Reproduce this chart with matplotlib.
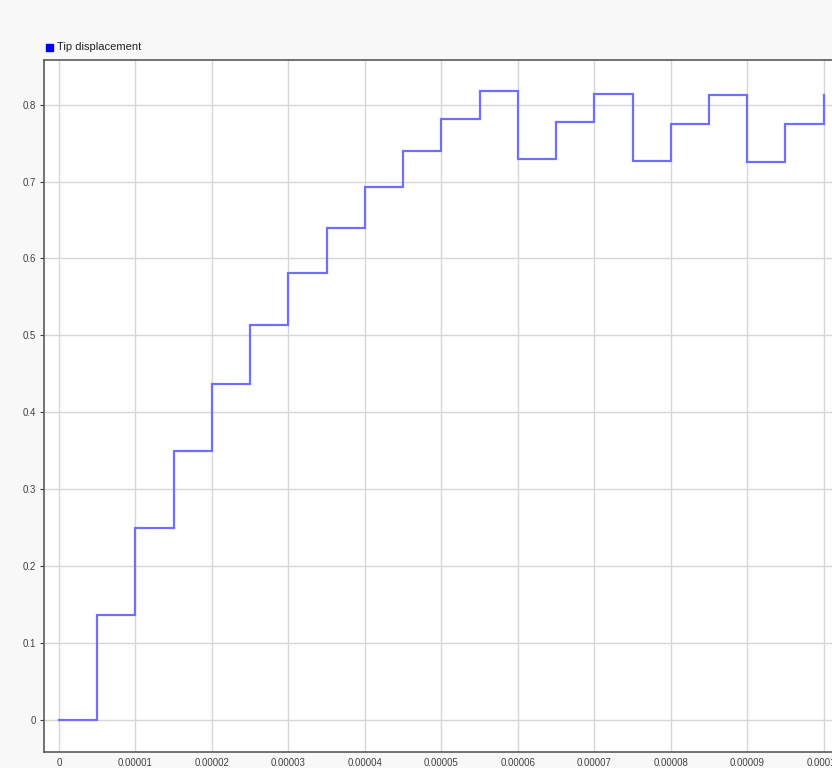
import matplotlib
matplotlib.use("Agg")
import matplotlib.pyplot as plt
import numpy as np

# Data: zero-order-hold samples every 5e-6 s
t = [0, 0.5e-5, 1.0e-5, 1.5e-5, 2.0e-5, 2.5e-5, 3.0e-5, 3.5e-5, 4.0e-5, 4.5e-5,
     5.0e-5, 5.5e-5, 6.0e-5, 6.5e-5, 7.0e-5, 7.5e-5, 8.0e-5, 8.5e-5, 9.0e-5,
     9.5e-5, 10.0e-5]
disp = [0.0, 0.137, 0.250, 0.350, 0.437, 0.514, 0.581, 0.640, 0.693, 0.740,
        0.781, 0.818, 0.729, 0.778, 0.814, 0.727, 0.775, 0.813, 0.725,
        0.775, 0.812]
xticks = [0, 1e-5, 2e-5, 3e-5, 4e-5, 5e-5, 6e-5, 7e-5, 8e-5, 9e-5, 10e-5]
xtick_labels = ["0", "0.00001", "0.00002", "0.00003", "0.00004", "0.00005",
                "0.00006", "0.00007", "0.00008", "0.00009", "0.00010"]
yticks = [0, 0.1, 0.2, 0.3, 0.4, 0.5, 0.6, 0.7, 0.8]
ytick_labels = ["0", "0.1", "0.2", "0.3", "0.4", "0.5", "0.6", "0.7", "0.8"]

plt.rcParams['font.family'] = ['Liberation Sans', 'DejaVu Sans']

fig = plt.figure(figsize=(8.32, 7.68), dpi=100, facecolor='#f8f8f8')
ax = fig.add_axes([44/832, 1 - 752/768, 1 - 44/832 + 0.002, (752 - 60)/768])
ax.set_facecolor('white')

ax.step(t, disp, where='post', color='#6e6eff', lw=1.6, solid_joinstyle='miter')

ax.set_xlim(-0.196e-5, 10.13e-5)
ax.set_ylim(-0.0416, 0.858)
ax.set_xticks(xticks)
ax.set_xticklabels(xtick_labels)
ax.set_yticks(yticks)
ax.set_yticklabels(ytick_labels)
ax.grid(True, color='#d6d6d6', lw=1.0)
ax.set_axisbelow(True)

ax.tick_params(axis='both', labelsize=6.9, colors='#404040', length=3, width=0.8,
               direction='out', pad=3)
ax.tick_params(axis='x', length=0, pad=4)
for s in ['left', 'bottom', 'top']:
    ax.spines[s].set_color('#5a5a5a')
    ax.spines[s].set_linewidth(1.2)
ax.spines['right'].set_visible(False)

# Legend-like label outside axes
fig.patches.append(plt.Rectangle((46/832, 1 - 51/768), 7/832, 7/768,
                                 transform=fig.transFigure, color='#0000ff',
                                 figure=fig))
fig.text(57/832, 1 - 47/768, "Tip displacement", fontsize=8, color='#222222',
         va='center', ha='left')

fig.savefig('out.png', dpi=100, facecolor=fig.get_facecolor())
